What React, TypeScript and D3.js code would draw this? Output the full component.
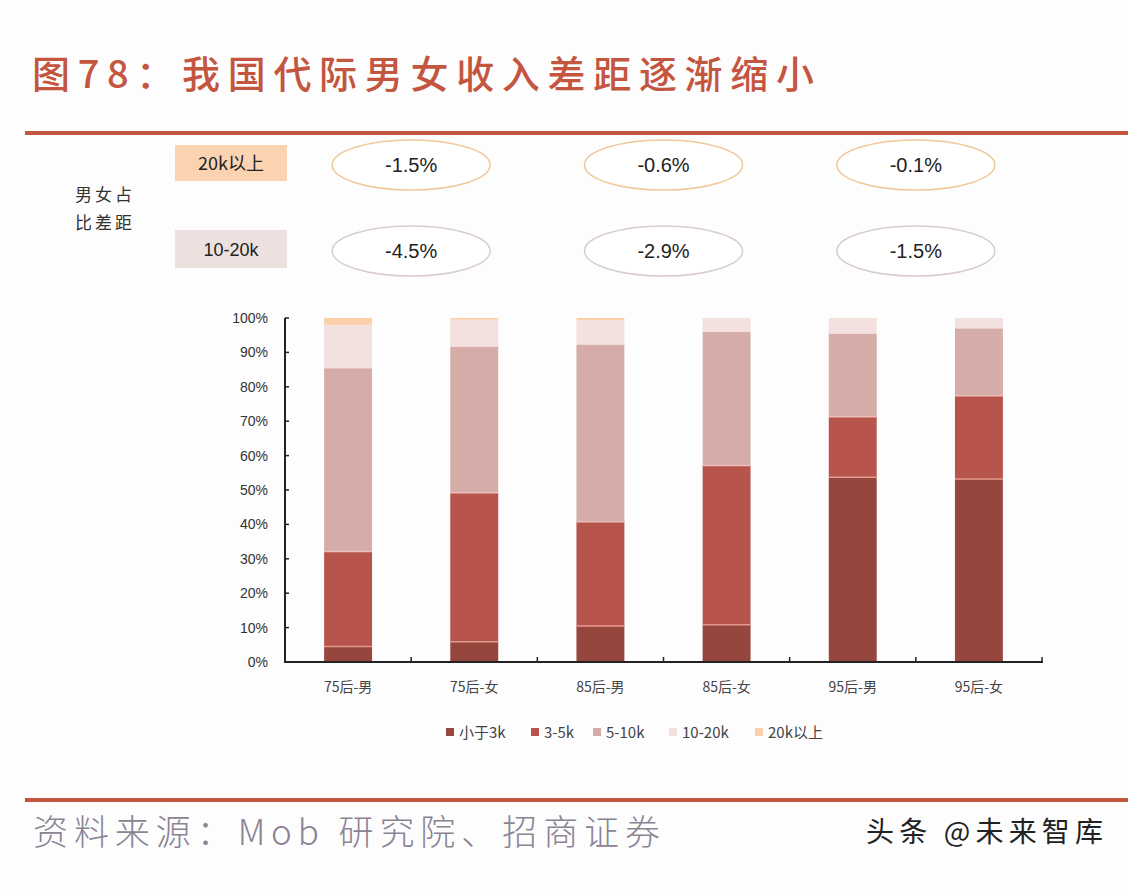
import React from 'react';
import * as d3 from 'd3';

const categories = ['75后-男', '75后-女', '85后-男', '85后-女', '95后-男', '95后-女'];
const seriesNames = ['小于3k', '3-5k', '5-10k', '10-20k', '20k以上'];
const below3k = [4.5, 5.9, 10.5, 10.8, 53.7, 53.2];
const k3to5 = [27.6, 43.3, 30.3, 46.3, 17.6, 24.2];
const k5to10 = [53.3, 42.5, 51.5, 38.9, 24.2, 19.6];
const k10to20 = [12.6, 7.8, 7.1, 4.0, 4.4, 3.0];
const above20k = [2.0, 0.5, 0.6, 0.0, 0.1, 0.0];
const yTicks = [0, 10, 20, 30, 40, 50, 60, 70, 80, 90, 100];
const gap20k = ['-1.5%', '-0.6%', '-0.1%'];
const gap10to20 = ['-4.5%', '-2.9%', '-1.5%'];

const colors = ['#97463d', '#b7554c', '#d5aca8', '#f2e1df', '#fbd0a8'];
const RED = '#c4553f';

export default function App() {
  const W = 1128, H = 894;
  const x = d3.scaleBand<string>().domain(categories).range([285, 1042]).padding(0);
  const y = d3.scaleLinear().domain([0, 100]).range([662, 318]);
  const bw = x.bandwidth() * 0.38;

  const rows = categories.map((c, i) => ({
    cat: c,
    vals: [below3k[i], k3to5[i], k5to10[i], k10to20[i], above20k[i]],
  }));
  const stack = d3.stack<any>().keys([0, 1, 2, 3, 4] as any).value((d: any, k: any) => d.vals[k]);
  const stacked = stack(rows as any);

  const pairCenter = (p: number) =>
    ((x(categories[2 * p]) as number) + (x(categories[2 * p + 1]) as number) + x.bandwidth()) / 2;

  const latin = '"Liberation Sans", Arial, "Noto Sans CJK SC", sans-serif';
  const cjk = '"Noto Sans CJK SC", "Liberation Sans", sans-serif';

  const legendX = [450, 535, 597, 673, 759];

  return (
    <svg width={W} height={H} style={{ position: 'absolute', left: 0, top: 0, background: '#fff' }}>
      <rect x={0} y={0} width={W} height={H} fill="#fdfdfe" />
      {/* Title */}
      <text x={32} y={88} fill={RED} fontFamily={cjk} fontWeight={500} fontSize={38}
        textLength={782} lengthAdjust="spacing">图78：我国代际男女收入差距逐渐缩小</text>
      <rect x={25} y={131} width={W - 25} height={4} fill={RED} />

      {/* Gap annotation area */}
      <text x={75} y={201} fontFamily={cjk} fontSize={17} fill="#333" letterSpacing={3}>男女占</text>
      <text x={75} y={229} fontFamily={cjk} fontSize={17} fill="#333" letterSpacing={3}>比差距</text>
      <rect x={175} y={145} width={112} height={36} fill="#fbd3b0" />
      <text x={231} y={170} textAnchor="middle" fontFamily={cjk} fontSize={18} fill="#222">20k以上</text>
      <rect x={175} y={230} width={112} height={38} fill="#ece1df" />
      <text x={231} y={256} textAnchor="middle" fontFamily={latin} fontSize={18} fill="#222">10-20k</text>
      {gap20k.map((g, i) => (
        <g key={'a' + i}>
          <ellipse cx={pairCenter(i)} cy={165} rx={79} ry={25} fill="#fff" stroke="#f0c99b" strokeWidth={1.5} />
          <text x={pairCenter(i)} y={172} textAnchor="middle" fontFamily={latin} fontSize={20} fill="#222">{g}</text>
        </g>
      ))}
      {gap10to20.map((g, i) => (
        <g key={'b' + i}>
          <ellipse cx={pairCenter(i)} cy={251} rx={79} ry={25} fill="#fff" stroke="#d9cccc" strokeWidth={1.5} />
          <text x={pairCenter(i)} y={258} textAnchor="middle" fontFamily={latin} fontSize={20} fill="#222">{g}</text>
        </g>
      ))}

      {/* Bars */}
      {stacked.map((layer, li) => (
        <g key={'l' + li}>
          {layer.map((d: any, i: number) => {
            const cx = (x(categories[i]) as number) + x.bandwidth() / 2;
            const h = y(d[0]) - y(d[1]);
            if (h <= 0) return null;
            return (
              <g key={i}>
                <rect x={cx - bw / 2} y={y(d[1])} width={bw} height={h} fill={colors[li]} />
                {li > 0 && li < 3 && (
                  <line x1={cx - bw / 2} x2={cx + bw / 2} y1={y(d[0])} y2={y(d[0])}
                    stroke={li === 1 ? '#e39a8f' : '#ecc0b8'} strokeWidth={1.5} />
                )}
              </g>
            );
          })}
        </g>
      ))}

      {/* Y axis */}
      <line x1={285} x2={285} y1={y(100)} y2={y(0)} stroke="#222" strokeWidth={2} />
      {yTicks.map((t) => (
        <g key={'y' + t}>
          <line x1={285} x2={289} y1={y(t)} y2={y(t)} stroke="#222" strokeWidth={1.5} />
          <text x={268} y={y(t) + 5} textAnchor="end" fontFamily={latin} fontSize={14} fill="#333">{t}%</text>
        </g>
      ))}
      {/* X axis */}
      <line x1={284} x2={1043} y1={y(0)} y2={y(0)} stroke="#222" strokeWidth={2} />
      {categories.map((c, i) => (
        <g key={'x' + i}>
          <line x1={(x(c) as number) + x.bandwidth()} x2={(x(c) as number) + x.bandwidth()}
            y1={y(0)} y2={y(0) - 5} stroke="#222" strokeWidth={1.5} />
          <text x={(x(c) as number) + x.bandwidth() / 2} y={692} textAnchor="middle"
            fontFamily={cjk} fontSize={14} fill="#444">{c}</text>
        </g>
      ))}

      {/* Legend */}
      {seriesNames.map((s, i) => (
        <g key={'lg' + i}>
          <rect x={legendX[i] - 4} y={728} width={8} height={8} fill={colors[i]} />
          <text x={legendX[i] + 9} y={738} fontFamily={cjk} fontSize={15} fill="#444">{s}</text>
        </g>
      ))}

      {/* Footer */}
      <rect x={25} y={798} width={W - 25} height={4} fill={RED} />
      <text x={33} y={845} fontFamily={cjk} fontWeight={300} fontSize={35} fill="#8a8394"
        textLength={627} lengthAdjust="spacing">资料来源：Mob 研究院、招商证券</text>
      <text x={866} y={842} fontFamily={cjk} fontSize={28} fill="#222"
        textLength={237} lengthAdjust="spacing">头条 @未来智库</text>
    </svg>
  );
}
